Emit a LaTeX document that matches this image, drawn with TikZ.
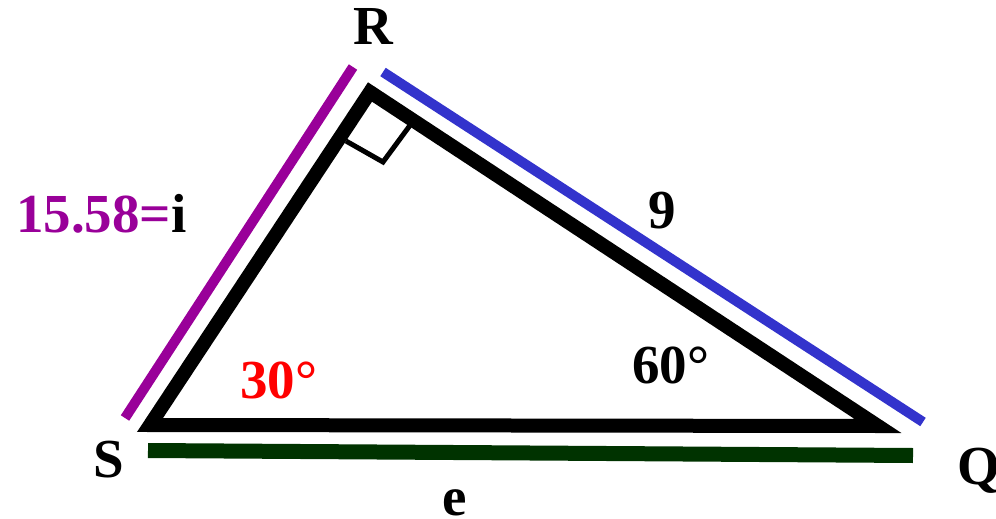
\documentclass[tikz,border=0pt]{standalone}
\usepackage{fontspec}
\setmainfont{Liberation Serif}
\usepackage{xcolor}
\usetikzlibrary{positioning}

\definecolor{sidei}{HTML}{990099}
\definecolor{sidenine}{HTML}{3333CC}
\definecolor{sidee}{HTML}{003300}

\begin{document}
\begin{tikzpicture}[
  x=1pt, y=-1pt,
  lbl/.style={font=\fontsize{55}{60}\selectfont\bfseries, inner sep=0pt, anchor=base west},
  tri/.style={line width=14pt, line join=miter},
  side/.style={line width=10pt}
]
\useasboundingbox (0,0) rectangle (996,519);

% vertices
\coordinate (S) at (150,425);
\coordinate (R) at (370,92);
\coordinate (Q) at (878,426);
\draw[tri] (S) -- (R) -- (Q) -- cycle;
\draw[line width=5pt] (346,141) -- (383,162) -- (411,124);

% coloured sides
\coordinate (i1) at (125,418);
\coordinate (i2) at (353,67);
\coordinate (n1) at (383,72);
\coordinate (n2) at (923,422);
\coordinate (e1) at (148,450.5);
\coordinate (e2) at (913,455.5);
\draw[side, sidei] (i1) -- (i2);
\draw[side, sidenine] (n1) -- (n2);
\draw[side, sidee, line width=15pt] (e1) -- (e2);

% labels
\node[lbl] (lR) at (353,45) {R};
\node[lbl] (lS) at (93,477) {S};
\node[lbl] (lQ) at (957,484) {Q};
\node[lbl] (le) at (442,515) {e};
\node[lbl] (l9) at (648,228) {9};
\node[lbl] (li) at (16,232) {\textcolor{sidei}{15.58=}i};
\node[lbl, red] (a30) at (240,398) {30°};
\node[lbl] (a60) at (632,383) {60°};
\end{tikzpicture}
\end{document}
